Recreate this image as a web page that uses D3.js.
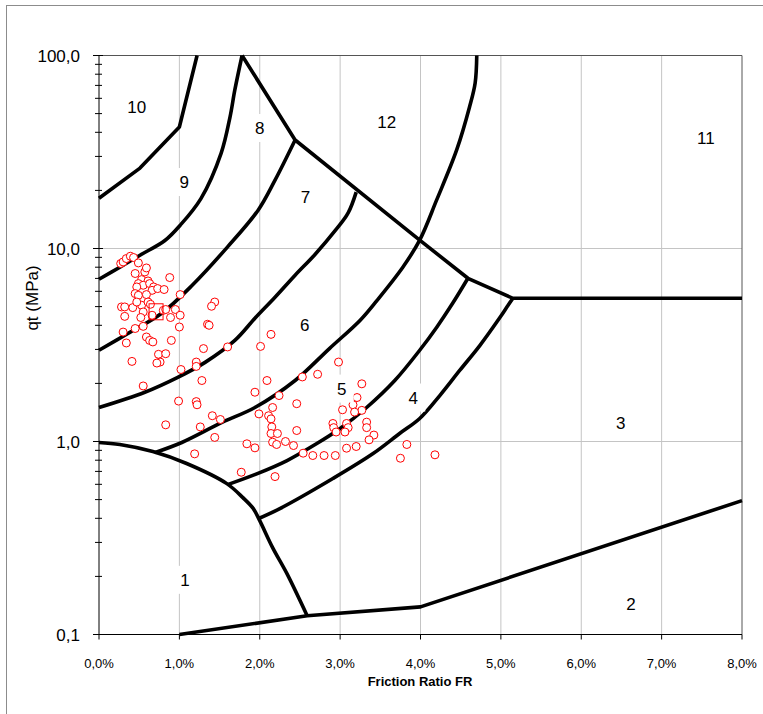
<!DOCTYPE html>
<html>
<head>
<meta charset="utf-8">
<script src="https://cdn.jsdelivr.net/npm/d3@7"></script>
<style>
  body { margin: 0; background: #fff; }
  text { font-family: "Liberation Sans", Arial, sans-serif; fill: #000; }
</style>
</head>
<body>
<div id="chart"></div>
<script>
// Friction ratio (%) vs cone resistance qt (MPa), soil behaviour type chart

var xTicks = [0, 1, 2, 3, 4, 5, 6, 7, 8];
var xTickLabels = ["0,0%", "1,0%", "2,0%", "3,0%", "4,0%", "5,0%", "6,0%", "7,0%", "8,0%"];
var yTicks = [0.1, 1, 10, 100];
var yTickLabels = ["0,1", "1,0", "10,0", "100,0"];

// zone boundaries [FR %, qt MPa]
var line10_9 = [[0, 18.2], [0.51, 26.1], [1.0, 42.6], [1.22, 100]];
var line9_8 = [[0, 6.93], [0.26, 8.0], [0.51, 9.23], [0.82, 11.0], [1.01, 13.2], [1.27, 18.2], [1.52, 31.2], [1.63, 48.0], [1.69, 66.3], [1.78, 100]];
var line8_7 = [[0, 2.97], [0.36, 3.63], [0.78, 4.62], [1.16, 6.45], [1.6, 10.2], [1.98, 15.8], [2.19, 22.6], [2.44, 36.5]];
var line7_6 = [[0, 1.5], [0.57, 1.8], [0.98, 2.15], [1.32, 2.57], [1.69, 3.34], [1.94, 4.35], [2.19, 5.59], [2.44, 7.27], [2.69, 9.34], [2.94, 12.4], [3.1, 15.3], [3.2, 19.6]];
var line1top = [[0, 0.988], [0.26, 0.965], [0.67, 0.887], [1.09, 0.769], [1.59, 0.605], [1.79, 0.512], [1.92, 0.449], [2.0, 0.389], [2.16, 0.282], [2.34, 0.206], [2.59, 0.125]];
var line1_2 = [[1.0, 0.1], [2.59, 0.125], [4.0, 0.139], [8.0, 0.494]];
var line6_5 = [[0.7, 0.877], [1.03, 0.988], [1.53, 1.255], [1.94, 1.5], [2.44, 2.07], [2.87, 3.04], [3.25, 4.25], [3.46, 5.39], [3.78, 8.0], [3.99, 11.05], [4.2, 17.8], [4.45, 32.4], [4.61, 54.1], [4.68, 72.1], [4.7, 100]];
var line5_4 = [[1.6, 0.598], [1.97, 0.682], [2.34, 0.797], [2.71, 0.976], [3.0, 1.168], [3.33, 1.5], [3.68, 2.07], [3.99, 2.97], [4.2, 3.9], [4.4, 5.2], [4.59, 7.01]];
var line4_3 = [[1.98, 0.398], [2.25, 0.449], [2.91, 0.643], [3.41, 0.866], [3.74, 1.1], [3.99, 1.316], [4.24, 1.73], [4.49, 2.34], [4.74, 3.15], [4.99, 4.4], [5.09, 5.08], [5.15, 5.52]];
var line12 = [[1.78, 100], [2.44, 36.5], [3.99, 11.05], [4.59, 7.01], [5.15, 5.52], [8.0, 5.52]];

var zoneLabels = ["10", "9", "8", "12", "11", "7", "6", "5", "4", "3", "1", "2"];
var zoneFR = [0.47, 1.06, 2.0, 3.58, 7.55, 2.57, 2.56, 3.02, 3.91, 6.49, 1.07, 6.62];
var zoneQt = [54.1, 22.1, 42.1, 45.2, 37.4, 18.5, 4.0, 1.88, 1.69, 1.25, 0.192, 0.144];

// CPT readings [FR %, qt MPa]
var cptPoints = [
  [0.27, 8.36], [0.30, 8.52], [0.34, 8.87], [0.39, 9.12], [0.43, 8.98], [0.49, 8.42], [0.45, 7.42], [0.57, 7.56],
  [0.59, 7.93], [0.88, 7.07], [0.53, 6.90], [0.61, 6.79], [0.49, 6.58], [0.55, 6.45], [0.63, 6.58], [0.68, 6.32],
  [0.66, 6.07], [0.73, 6.20], [0.81, 6.13], [0.47, 6.32], [0.45, 5.84], [0.49, 5.72], [0.59, 5.77], [1.01, 5.77],
  [0.28, 4.98], [0.32, 4.98], [0.42, 4.94], [0.53, 5.08], [0.61, 5.28], [0.64, 5.14], [0.47, 5.28], [0.55, 4.69],
  [0.66, 4.51], [0.52, 4.39], [0.80, 4.78], [0.83, 4.83], [0.95, 4.83], [1.01, 4.51], [0.89, 4.39], [1.00, 3.92],
  [0.32, 4.45], [0.30, 3.69], [0.45, 3.85], [0.55, 3.95], [0.34, 3.24], [0.59, 3.48], [0.63, 3.34], [0.67, 3.28],
  [0.90, 3.34], [1.44, 5.28], [1.40, 5.02], [1.35, 4.05], [1.37, 4.00], [1.30, 3.03], [1.60, 3.09], [2.01, 3.11],
  [2.14, 3.59], [0.74, 2.83], [0.83, 2.85], [0.76, 2.58], [0.72, 2.55], [0.41, 2.60], [1.02, 2.36], [1.21, 2.58],
  [1.21, 2.45], [1.28, 2.07], [0.55, 1.94], [1.94, 1.80], [2.09, 2.07], [2.24, 1.73], [0.99, 1.62], [1.21, 1.61],
  [1.22, 1.55], [0.83, 1.22], [1.26, 1.19], [1.41, 1.36], [1.51, 1.30], [1.99, 1.39], [2.11, 1.36], [2.14, 1.31],
  [2.16, 1.50], [2.15, 1.19], [1.44, 1.05], [1.19, 0.863], [1.77, 0.693], [2.14, 1.10], [2.22, 1.10], [2.16, 0.992],
  [2.21, 0.965], [2.32, 1.00], [1.84, 0.973], [1.94, 0.927], [2.19, 0.658], [2.46, 1.57], [2.46, 1.14], [2.42, 0.953],
  [2.54, 0.870], [2.66, 0.846], [2.80, 0.846], [2.94, 0.846], [2.98, 2.58], [2.72, 2.23], [2.53, 2.16], [3.03, 1.46],
  [3.16, 1.55], [3.21, 1.69], [3.27, 1.99], [3.27, 1.45], [3.18, 1.42], [2.91, 1.24], [2.92, 1.18], [2.95, 1.12],
  [3.08, 1.24], [3.10, 1.18], [3.06, 1.12], [3.33, 1.26], [3.33, 1.18], [3.42, 1.08], [3.36, 1.02], [3.20, 0.942],
  [3.08, 0.923], [3.83, 0.965], [3.75, 0.819], [4.18, 0.853]
];
var squarePoint = [0.71, 4.7];

var svgWidth = 763;
var svgHeight = 714;

var svg = d3.select("#chart")
  .append("svg")
  .attr("width", svgWidth)
  .attr("height", svgHeight);

// outer frame
svg.append("rect")
  .attr("x", 6.5).attr("y", 5.5)
  .attr("width", 800).attr("height", 800)
  .attr("fill", "none")
  .attr("stroke", "#8c8c8c");

var xScale = d3.scaleLinear().domain([0, 8]).range([99, 742]);
var yScale = d3.scaleLog().domain([0.1, 100]).range([634.5, 55.5]);

// gridlines
var grid = svg.append("g").attr("stroke", "#c4c4c4").attr("stroke-width", 1);
grid.selectAll(".vg").data(xTicks.slice(1, -1)).enter().append("line")
  .attr("x1", d => xScale(d)).attr("x2", d => xScale(d))
  .attr("y1", yScale(100)).attr("y2", yScale(0.1));
grid.selectAll(".hg").data([1, 10]).enter().append("line")
  .attr("x1", xScale(0)).attr("x2", xScale(8))
  .attr("y1", d => yScale(d)).attr("y2", d => yScale(d));

// plot border top/right
svg.append("path")
  .attr("d", `M${xScale(0)},${yScale(100)}H${xScale(8)}V${yScale(0.1)}`)
  .attr("fill", "none")
  .attr("stroke", "#555")
  .attr("stroke-width", 1);

var straight = d3.line().x(d => xScale(d[0])).y(d => yScale(d[1]));
var curved = d3.line().x(d => xScale(d[0])).y(d => yScale(d[1])).curve(d3.curveCatmullRom.alpha(0.5));

var lineGroup = svg.append("g")
  .attr("fill", "none")
  .attr("stroke", "#000")
  .attr("stroke-width", 3.6)
  .attr("stroke-linejoin", "round");

[line10_9, line1_2, line12].forEach(function(l) {
  lineGroup.append("path").attr("d", straight(l));
});
[line9_8, line8_7, line7_6, line1top, line6_5, line5_4, line4_3].forEach(function(l) {
  lineGroup.append("path").attr("d", curved(l));
});

// data points
svg.append("g").selectAll("circle")
  .data(cptPoints)
  .enter()
  .append("circle")
  .attr("cx", d => xScale(d[0]))
  .attr("cy", d => yScale(d[1]))
  .attr("r", 4)
  .attr("fill", "#fff")
  .attr("stroke", "#ff0000")
  .attr("stroke-width", 1);

svg.append("rect")
  .attr("x", xScale(squarePoint[0]) - 7)
  .attr("y", yScale(squarePoint[1]) - 8)
  .attr("width", 14).attr("height", 16)
  .attr("fill", "none")
  .attr("stroke", "#ff0000");

// zone labels with white boxes
var zones = svg.append("g");
zoneLabels.forEach(function(lab, i) {
  var cx = xScale(zoneFR[i]);
  var cy = yScale(zoneQt[i]);
  var w = lab.length * 10 + 14;
  zones.append("rect")
    .attr("x", cx - w / 2).attr("y", cy - 14)
    .attr("width", w).attr("height", 28)
    .attr("fill", "#fff");
  zones.append("text")
    .attr("x", cx).attr("y", cy)
    .attr("dy", "0.36em")
    .attr("text-anchor", "middle")
    .style("font-size", "17px")
    .text(lab);
});

// axes
var axes = svg.append("g").attr("stroke", "#000").attr("stroke-width", 1);
axes.append("line")
  .attr("x1", xScale(0)).attr("x2", xScale(0))
  .attr("y1", yScale(100)).attr("y2", yScale(0.1));
axes.append("line")
  .attr("x1", xScale(0)).attr("x2", xScale(8))
  .attr("y1", yScale(0.1)).attr("y2", yScale(0.1));

axes.selectAll(".xt").data(xTicks).enter().append("line")
  .attr("x1", d => xScale(d)).attr("x2", d => xScale(d))
  .attr("y1", yScale(0.1)).attr("y2", yScale(0.1) + 5);

var minor = [];
[0.1, 1, 10].forEach(function(dec) {
  for (var k = 2; k <= 9; k++) minor.push(dec * k);
});
axes.selectAll(".ym").data(minor).enter().append("line")
  .attr("x1", xScale(0) - 4).attr("x2", xScale(0) + 3)
  .attr("y1", d => yScale(d)).attr("y2", d => yScale(d));
axes.selectAll(".yM").data(yTicks).enter().append("line")
  .attr("x1", xScale(0) - 6).attr("x2", xScale(0) + 4)
  .attr("y1", d => yScale(d)).attr("y2", d => yScale(d));

svg.selectAll(".xl").data(xTicks).enter().append("text")
  .attr("x", d => xScale(d))
  .attr("y", 668)
  .attr("text-anchor", "middle")
  .style("font-size", "13px")
  .text((d, i) => xTickLabels[i]);

svg.selectAll(".yl").data(yTicks).enter().append("text")
  .attr("x", 80)
  .attr("y", d => yScale(d))
  .attr("dy", "0.36em")
  .attr("text-anchor", "end")
  .style("font-size", "17px")
  .text((d, i) => yTickLabels[i]);

svg.append("text")
  .attr("transform", "translate(38, 298) rotate(-90)")
  .attr("text-anchor", "middle")
  .style("font-size", "17px")
  .text("qt (MPa)");

svg.append("text")
  .attr("x", 420)
  .attr("y", 686)
  .attr("text-anchor", "middle")
  .style("font-size", "13px")
  .style("font-weight", "bold")
  .text("Friction Ratio FR");
</script>
</body>
</html>
